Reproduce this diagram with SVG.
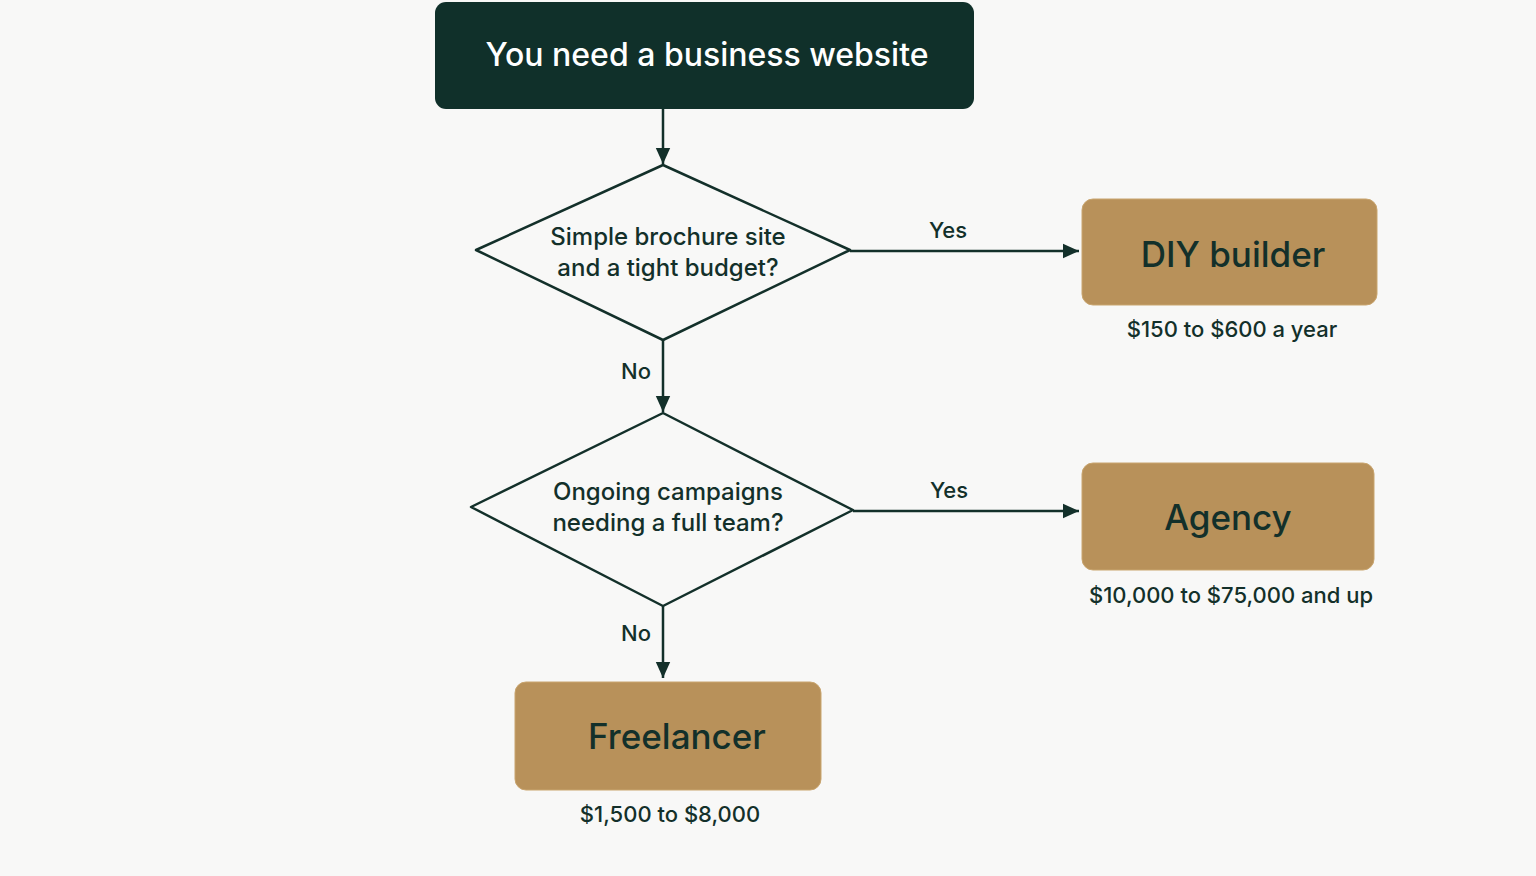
<svg xmlns="http://www.w3.org/2000/svg" width="1536" height="876" viewBox="0 0 1536 876">
<defs>
<style>
text{font-family:Inter,"Liberation Sans",sans-serif;text-anchor:middle;fill:#13302a;font-weight:500}
.dec{fill:none;stroke:#13302a;stroke-width:2.5;stroke-linejoin:round}
.out{fill:#b8915a;stroke:#c9a56f;stroke-width:1}
.con{stroke:#13302a;stroke-width:2.5;fill:none}
.q{font-size:24px}
.lbl{font-size:22px}
.big{font-size:35px;font-weight:500}
.sub{font-size:22px}
</style>
<marker id="a" viewBox="0 0 10 10" refX="10" refY="5" markerWidth="16" markerHeight="16" markerUnits="userSpaceOnUse" orient="auto">
<path d="M0,0.5 L10,5 L0,9.5 Z" fill="#13302a"/>
</marker>
</defs>
<rect width="1536" height="876" fill="#f8f8f7"/>
<g id="connectors">
<line class="con" x1="663" y1="109" x2="663" y2="164" marker-end="url(#a)"/>
<line class="con" x1="850" y1="251" x2="1079" y2="251" marker-end="url(#a)"/>
<line class="con" x1="663" y1="340" x2="663" y2="412" marker-end="url(#a)"/>
<line class="con" x1="853" y1="511" x2="1079" y2="511" marker-end="url(#a)"/>
<line class="con" x1="663" y1="606" x2="663" y2="678" marker-end="url(#a)"/>
<text class="lbl" x="948" y="238">Yes</text>
<text class="lbl" x="949" y="498">Yes</text>
<text class="lbl" x="636" y="379">No</text>
<text class="lbl" x="636" y="641">No</text>
</g>
<g id="start">
<rect x="435" y="2" width="539" height="107" rx="11" fill="#10302a"/>
<text x="707" y="66" style="font-size:32px;font-weight:500;fill:#ffffff">You need a business website</text>
</g>
<g id="q1">
<path class="dec" d="M663,165 L850,250 L663,340 L476,250 Z"/>
<text class="q" x="668" y="245">Simple brochure site</text>
<text class="q" x="668" y="276">and a tight budget?</text>
</g>
<g id="diy">
<rect class="out" x="1082" y="199" width="295" height="106" rx="11"/>
<text class="big" x="1233" y="267">DIY builder</text>
<text class="sub" x="1232" y="337">$150 to $600 a year</text>
</g>
<g id="q2">
<path class="dec" d="M663,413 L853,510 L663,606 L471,507 Z"/>
<text class="q" x="668" y="500">Ongoing campaigns</text>
<text class="q" x="668" y="531">needing a full team?</text>
</g>
<g id="agency">
<rect class="out" x="1082" y="463" width="292" height="107" rx="11"/>
<text class="big" x="1228" y="530">Agency</text>
<text class="sub" x="1231" y="603">$10,000 to $75,000 and up</text>
</g>
<g id="freelancer">
<rect class="out" x="515" y="682" width="306" height="108" rx="11"/>
<text class="big" x="677" y="749">Freelancer</text>
<text class="sub" x="670" y="822">$1,500 to $8,000</text>
</g>
</svg>
